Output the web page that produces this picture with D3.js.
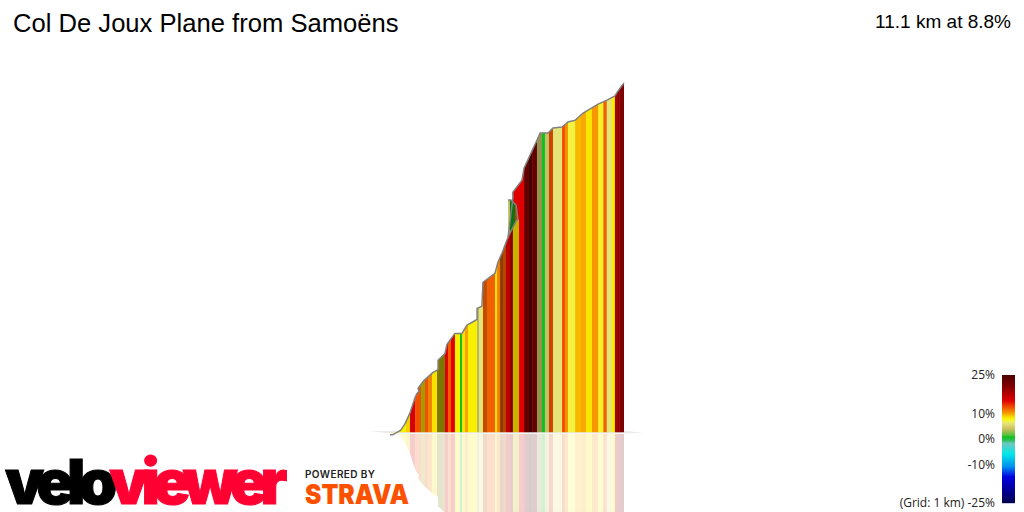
<!DOCTYPE html>
<html><head><meta charset="utf-8">
<style>html,body{margin:0;padding:0;background:#fff;overflow:hidden}svg{display:block}</style>
<script src="https://cdn.jsdelivr.net/npm/d3@7"></script></head><body>
<script>
// Data
const titleText = "Col De Joux Plane from Samoëns";
const summaryText = "11.1 km at 8.8%";
const legendTicks = [25, 10, 0, -10, -25];
const gridNote = "(Grid: 1 km) ";

// Road profile: distance (km), elevation (m)
const ridgeKm = [0,.14,.5,.71,.95,1.19,1.28,1.38,1.33,1.57,2.04,2.28,2.28,2.61,2.70,3.08,3.42,3.65,3.98,4.13,4.13,4.36,4.41,4.98,5.12,5.31,5.60,5.83,5.83,6.26,6.36,6.97,7.12,7.50,7.73,8.16,8.44,8.78,9.16,9.87,10.29,10.67,10.82,11.1];
const ridgeM  = [-6,-6,6,24,55,98,109,115,123,143,168,176,202,221,246,277,277,300,311,316,347,353,420,445,476,501,546,655,672,705,739,817,837,837,851,854,868,873,893,918,929,941,955,977];

// Stripes: segment end (km), gradient (%), light falling on the face (0-1)
const stripeEnd   = [.76,.95,1.19,1.47,1.66,1.80,1.99,2.23,2.61,2.75,2.89,3.08,3.32,3.42,3.56,3.70,4.13,4.22,4.41,4.60,4.98,5.08,5.22,5.36,5.50,5.69,5.83,6.12,6.36,6.55,6.74,6.97,7.21,7.35,7.54,7.73,8.16,8.30,8.44,8.78,9.06,9.30,9.58,9.88,10.12,10.28,10.52,10.67,10.77,10.89,11.1];
const stripeGrade = [8,9,15,12.5,8,12.5,11,8.5,8,15,12,15,8,.5,8.5,10,8,6,6,12,12,8.5,11,12,12,15,20,8.5,15,23,25,23,6,.5,6,12.5,6,12.5,10.5,7,9.5,9.8,8.3,10.3,7.5,12,6,8,18,20,21];
const stripeLight = [1,1,.95,1,.65,1,1,1,.5,1,1,1,1,1,1,1,1,.8,1,.8,1,1,1,.6,.75,.85,1,.8,1,1,1,1,.65,1,.85,.85,1,1,1,1,1,1,1,1,1,1,1,1,1,1,1];

// Hairpin where the road doubles back over itself
const upperKm = [5.60,5.83,5.83,6.12,6.12,5.98];
const upperM  = [546,655,672,694,596,591];
const upperGrade = 15;
const backKm = [5.60,5.98,6.07,5.98,5.74,5.60,5.60];
const backM  = [546,591,596,636,650,650,546];
const backEnd   = [5.69,5.93,6.07];
const backGrade = [6,.5,12];
const backLight = [.85,.6,.75];

const gradeStops  = [25,20,15,12.5,11,10,9,8,7,6,4,1.5,.5,-.8,-2,-6,-11,-15,-25];
const colourStops = ["#4a0000","#8c0000","#e00000","#f05000","#f08000","#f8a000","#f8d000","#f8f000","#f4f440","#e4e478","#d0c060","#60c040","#10c020","#30c060","#70c8c0","#00e8e8","#0090f0","#0000e0","#000050"];

const svg = d3.select("body").append("svg").attr("width",1024).attr("height",512);
const x = d3.scaleLinear().domain([0,11.1]).range([390,624]);
const y = d3.scaleLinear().domain([0,977]).range([432.5,83]);
const yMirror = d3.scaleLinear().domain([0,977]).range([434,783]);
const colour = d3.scaleLinear().domain(gradeStops).range(colourStops);
const lit = (g,l)=>{const c=d3.rgb(colour(g));return d3.rgb(c.r*l,c.g*l,c.b*l).formatHex();};
const line = (k,m,ys)=>d3.line().x(i=>x(k[i])).y(i=>ys(m[i]))(d3.range(k.length));

const ridgeClose = (ys,base)=>{
  const k=[...ridgeKm,11.1,0], m=[...ridgeM,base,base];
  return line(k,m,ys)+"Z";
};
const defs = svg.append("defs");
defs.append("clipPath").attr("id","mainClip").append("path").attr("d",ridgeClose(y,0));
defs.append("clipPath").attr("id","mirrorClip").append("path").attr("d",ridgeClose(yMirror,0));
defs.append("clipPath").attr("id","backClip").append("path").attr("d",line(backKm,backM,y)+"Z");

// ground plate
const plateKm=[-1,0,11.1,12,11.1,0], plateY=[431,431,430.8,432.8,433.6,433.6];
svg.append("path").attr("fill","#ebebeb")
  .attr("d",d3.line().x((d,i)=>x(d)).y((d,i)=>plateY[i])(plateKm)+"Z");

const stripeStart = i => i? stripeEnd[i-1]:0;
// reflection
svg.append("g").attr("clip-path","url(#mirrorClip)").attr("opacity",.2)
  .selectAll("rect").data(stripeEnd).join("rect")
  .attr("x",(d,i)=>x(stripeStart(i))).attr("width",(d,i)=>x(d)-x(stripeStart(i))+.3)
  .attr("y",yMirror(0)).attr("height",yMirror(977)-yMirror(0))
  .attr("fill",(d,i)=>lit(stripeGrade[i],stripeLight[i]));
// main stripes
svg.append("g").attr("clip-path","url(#mainClip)")
  .selectAll("rect").data(stripeEnd).join("rect")
  .attr("x",(d,i)=>x(stripeStart(i))).attr("width",(d,i)=>x(d)-x(stripeStart(i))+.3)
  .attr("y",y(977)).attr("height",y(0)-y(977))
  .attr("fill",(d,i)=>lit(stripeGrade[i],stripeLight[i]));
// hairpin layers
svg.append("path").attr("d",line(upperKm,upperM,y)+"Z").attr("fill",colour(upperGrade));
svg.append("g").attr("clip-path","url(#backClip)")
  .selectAll("rect").data(backEnd).join("rect")
  .attr("x",(d,i)=>x(i?backEnd[i-1]:backKm[0])).attr("width",(d,i)=>x(d)-x(i?backEnd[i-1]:backKm[0])+.3)
  .attr("y",y(700)).attr("height",y(500)-y(700))
  .attr("fill",(d,i)=>lit(backGrade[i],backLight[i]));
// outlines
const outline={fill:"none",stroke:"#808080","stroke-width":1.5,"stroke-linejoin":"round"};
const pBack=svg.append("path").attr("d",line(backKm.slice(0,6),backM.slice(0,6),y));
const pMain=svg.append("path").attr("d",line(ridgeKm,ridgeM,y));
[pBack,pMain].forEach(p=>Object.entries(outline).forEach(([k,v])=>p.attr(k,v)));

// heading
const sans="'Liberation Sans',Arial,sans-serif";
svg.append("text").attr("x",13).attr("y",32).attr("font-family",sans).attr("font-size",25.6).attr("fill","#000").text(titleText);
svg.append("text").attr("x",1011).attr("y",28).attr("text-anchor","end").attr("font-family",sans).attr("font-size",19).attr("fill","#000").text(summaryText);

// legend
const legendY=d3.scaleLinear().domain([25,10,0,-10,-25]).range([375,413.5,438.5,464,503]);
const legendGrades=d3.range(375,503).map(p=>legendY.invert(p+.5));
svg.append("g").selectAll("rect").data(legendGrades).join("rect")
  .attr("x",1002).attr("width",13).attr("y",d=>Math.floor(legendY(d))).attr("height",1.2)
  .attr("fill",d=>colour(d));
const legendLabelY=d3.scaleLinear().domain([25,10,0,-10,-25]).range([379,418,443,469,507]);
svg.append("g").selectAll("text").data(legendTicks).join("text")
  .attr("x",995).attr("y",d=>legendLabelY(d)).attr("text-anchor","end")
  .attr("font-family","'Open Sans',sans-serif").attr("font-size",12).attr("fill","#222")
  .text(d=>(d===-25?gridNote:"")+d+"%");

// logos
const brand=svg.append("text").attr("x",5).attr("y",504).attr("font-family","Inter,Lato,sans-serif").attr("font-weight",900).attr("font-size",62).attr("letter-spacing",-6.9);
brand.append("tspan").attr("fill","#000").attr("stroke","#000").attr("stroke-width",1).text("velo");
brand.append("tspan").attr("fill","#ff0033").attr("stroke","#ff0033").attr("stroke-width",1).text("viewer");
svg.append("text").attr("x",305).attr("y",478).attr("font-family","Inter,Roboto,sans-serif").attr("font-weight",600).attr("font-size",10).attr("textLength",70).attr("fill","#222").text("POWERED BY");
svg.append("text").attr("x",305).attr("y",503.5).attr("font-family","Inter,Lato,sans-serif").attr("font-weight",900).attr("font-size",27).attr("textLength",104).attr("lengthAdjust","spacingAndGlyphs").attr("fill","#fc5200").text("STRAVA");
</script></body></html>
